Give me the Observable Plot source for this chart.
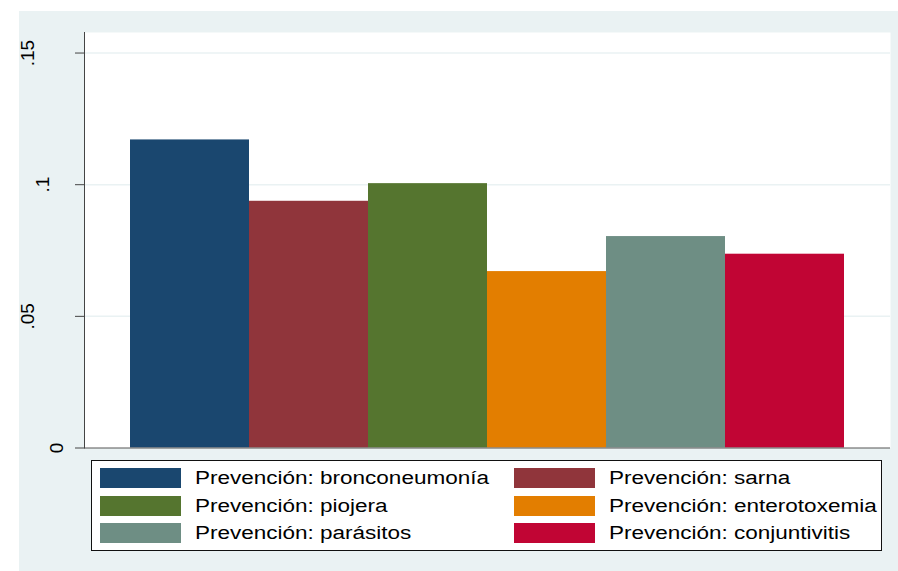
<!DOCTYPE html>
<html>
<head>
<meta charset="utf-8">
<script src="https://cdn.jsdelivr.net/npm/d3@7"></script>
<script src="https://cdn.jsdelivr.net/npm/@observablehq/plot@0.6"></script>
<style>
  html, body { margin: 0; padding: 0; background: #ffffff; }
  #bg { position: absolute; left: 19px; top: 11px; width: 879px; height: 560px; background: #EAF2F3; }
  #chart { position: absolute; left: 0; top: 0; width: 898px; height: 456px; }
  #chart svg { display: block; }
  #legend { position: absolute; left: 91px; top: 460px; width: 791px; height: 91px; box-sizing: border-box;
            border: 1px solid #111; background: #fff; font-family: "Liberation Sans", Arial, sans-serif; }
  .item { position: absolute; height: 20px; }
  .sw { position: absolute; left: 0; top: 0; width: 81px; height: 20px; box-sizing: border-box; }
  .lb { position: absolute; left: 95px; top: 10px; white-space: nowrap; font-size: 18px; color: #000;
        line-height: 1; transform: translateY(-50%) scaleX(1.25); transform-origin: left center; }
</style>
</head>
<body>
<div id="bg"></div>
<div id="chart"></div>
<div id="legend"></div>
<script>
const series = [
  "Prevención: bronconeumonía",
  "Prevención: sarna",
  "Prevención: piojera",
  "Prevención: enterotoxemia",
  "Prevención: parásitos",
  "Prevención: conjuntivitis"
];
const values = [0.1170, 0.0937, 0.1004, 0.0670, 0.0803, 0.0736];
const colors = ["#1A476F", "#90353B", "#55752F", "#E37E00", "#6E8E84", "#C10534"];
const yTickValues = [0, 0.05, 0.1, 0.15];
const yTickLabels = ["0", ".05", ".1", ".15"];
const legendOrder = [0, 1, 2, 3, 4, 5];

const data = series.map((s, i) => ({series: s, value: values[i]}));
const font = '"Liberation Sans", Arial, sans-serif';

const labelMarks = yTickValues.map((v, i) => {
  const len = yTickLabels[i].length;
  return Plot.text([v], {
    y: d => d,
    text: () => yTickLabels[i],
    frameAnchor: "left",
    rotate: -90,
    textAnchor: "middle",
    lineAnchor: "middle",
    dx: -(27.5 + (len - 1) * 14.5),
    fontSize: 19,
    fill: "#000"
  });
});

const chart = Plot.plot({
  width: 898,
  height: 456,
  marginLeft: 84,
  marginRight: 8,
  marginTop: 32,
  marginBottom: 8.5,
  style: {background: "transparent", fontFamily: font, overflow: "visible"},
  x: {type: "band", domain: series, paddingInner: 0, paddingOuter: 0.385, axis: null, label: null},
  y: {domain: [0, 0.1578], axis: null, label: null},
  color: {domain: series, range: colors},
  marks: [
    Plot.frame({fill: "#ffffff", stroke: "none"}),
    Plot.gridY(yTickValues.filter(v => v > 0), {stroke: "#EAF2F3", strokeOpacity: 1, strokeWidth: 1.5}),
    Plot.barY(data, {x: "series", y: "value", fill: "series", inset: 0}),
    Plot.ruleY([0], {stroke: "#555", strokeWidth: 1}),
    Plot.frame({anchor: "left", stroke: "#444", strokeWidth: 1}),
    Plot.axisY({ticks: yTickValues, tickSize: 9, text: null, label: null, stroke: "#444", strokeOpacity: 1}),
    ...labelMarks
  ]
});
document.getElementById("chart").appendChild(chart);

const legend = document.getElementById("legend");
legendOrder.forEach((idx, k) => {
  const col = k % 2, row = Math.floor(k / 2);
  const item = document.createElement("div");
  item.className = "item";
  item.style.left = (8 + col * 414) + "px";
  item.style.top = (7 + row * 27.5) + "px";
  const sw = document.createElement("div");
  sw.className = "sw";
  sw.style.background = colors[idx];
  const lb = document.createElement("span");
  lb.className = "lb";
  lb.textContent = series[idx];
  item.appendChild(sw);
  item.appendChild(lb);
  legend.appendChild(item);
});
</script>
</body>
</html>
